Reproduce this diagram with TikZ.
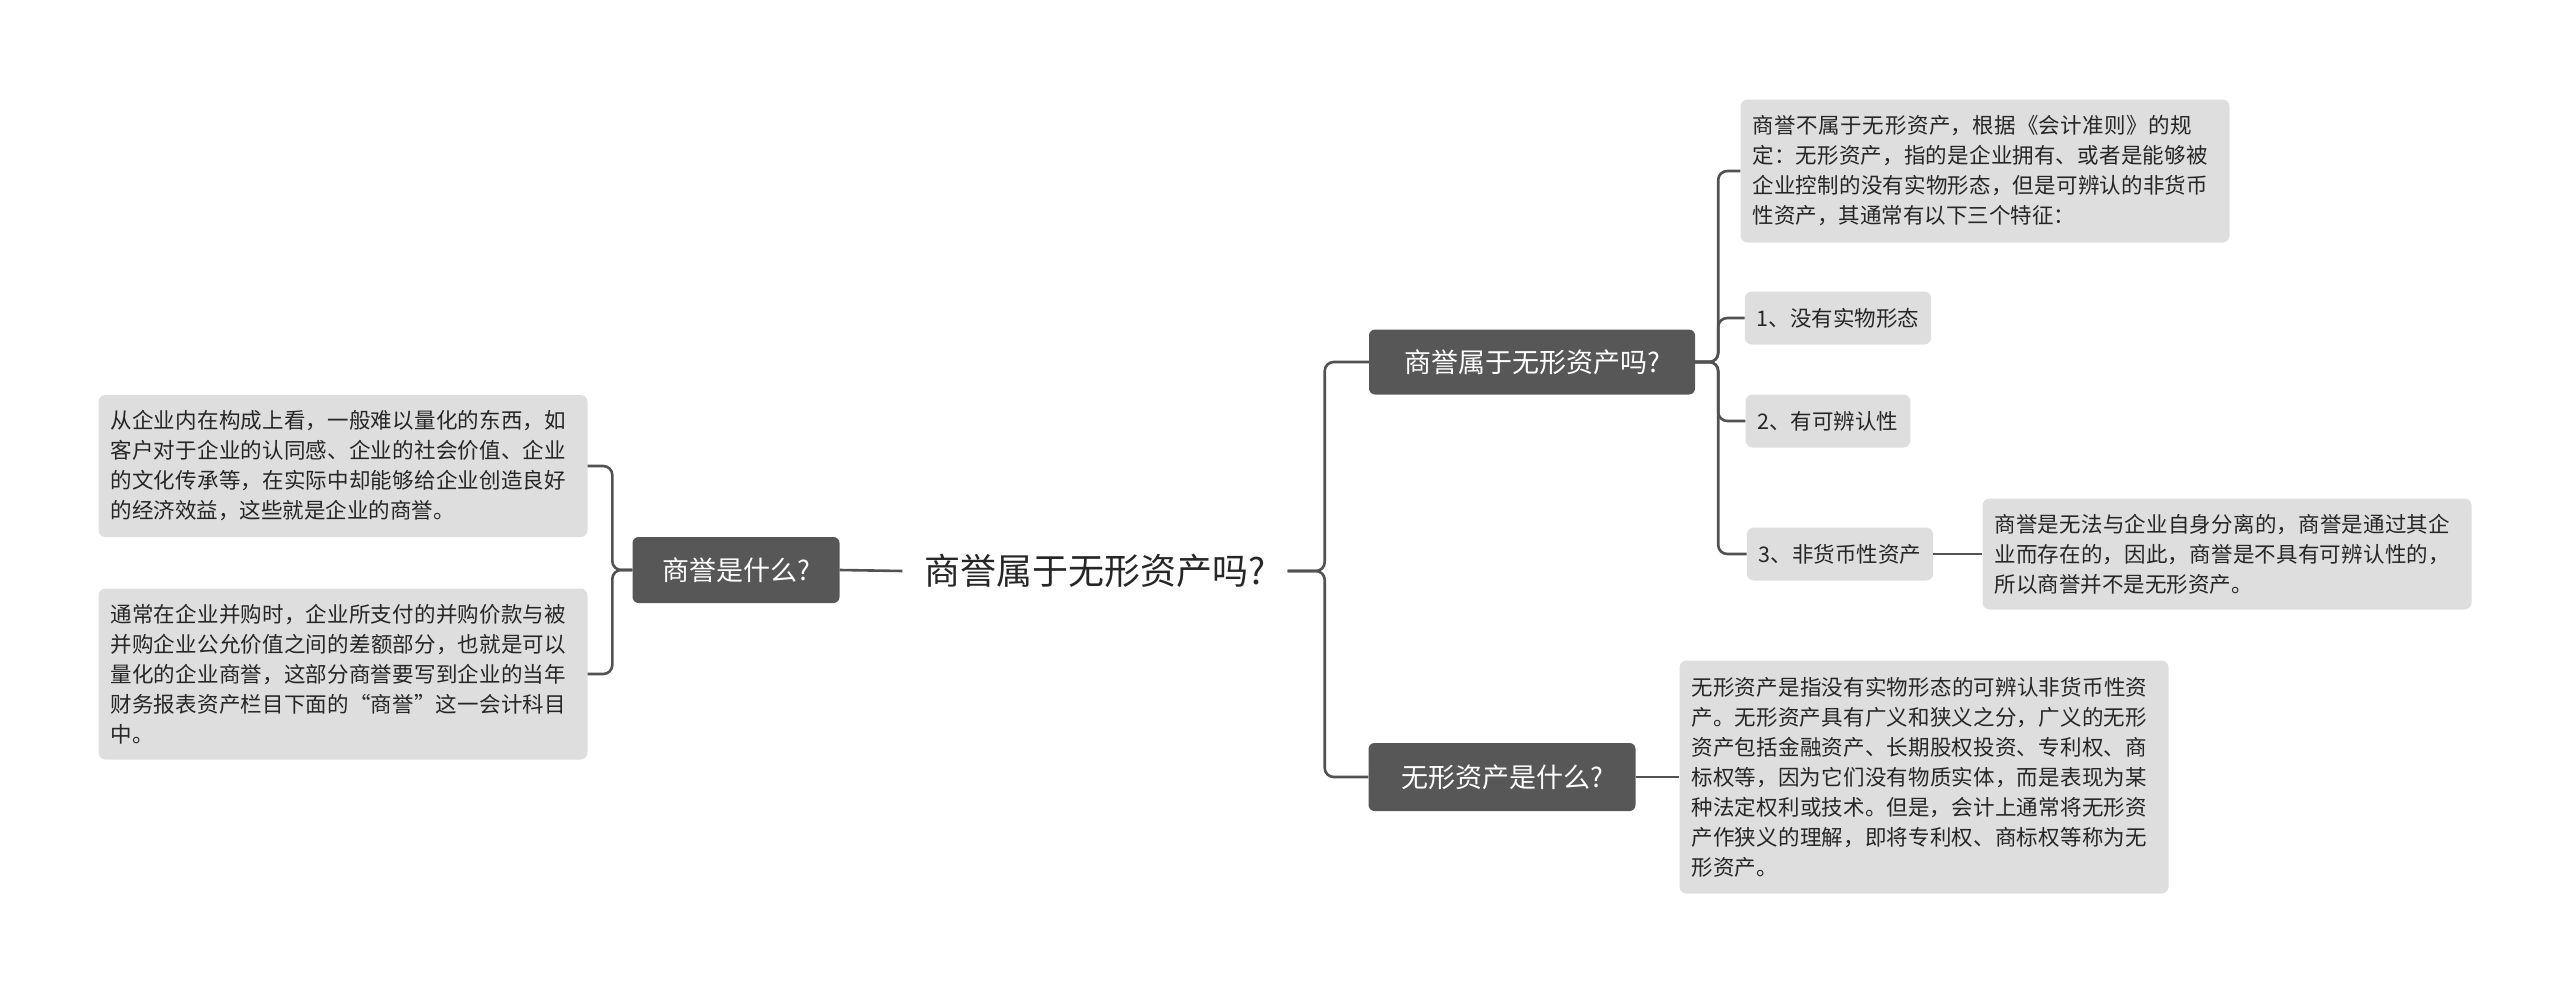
\documentclass[tikz,border=0pt]{standalone}
\usepackage{fontspec}
\setmainfont{Noto Sans CJK SC}
\XeTeXlinebreaklocale "zh"
\XeTeXlinebreakskip=0pt plus 1pt
\begin{document}
\begin{tikzpicture}[x=1pt,y=-1pt,
  conn/.style={draw=black!68,line width=2.6pt,rounded corners=9pt},
  dark/.style={fill=black!66,text=white,rounded corners=6pt,inner xsep=12pt,minimum height=66pt,font=\fontsize{27}{34}\selectfont},
  lite/.style={fill=black!13,text=black!85,rounded corners=7pt,inner xsep=12pt,minimum height=53pt,font=\fontsize{21.5}{30}\selectfont},
  detail/.style={lite,text width=465pt,align=left,inner ysep=10pt}]
\useasboundingbox (0,0) rectangle (2560,990);
\node[font=\fontsize{36}{42}\selectfont,text=black!85,inner xsep=22pt] (root) at (1095,571) {商誉属于无形资产吗?};
\node[dark,minimum width=207pt] (q1) at (736,570) {商誉是什么?};
\node[dark,minimum width=326pt,minimum height=65pt] (b1) at (1532,362) {商誉属于无形资产吗?};
\node[dark,minimum width=267pt,minimum height=68pt] (b2) at (1502,777) {无形资产是什么?};
\node[detail,minimum height=142pt] (L1) at (343,466) {从企业内在构成上看，一般难以量化的东西，如客户对于企业的认同感、企业的社会价值、企业的文化传承等，在实际中却能够给企业创造良好的经济效益，这些就是企业的商誉。};
\node[detail,minimum height=171pt] (L2) at (343,674) {通常在企业并购时，企业所支付的并购价款与被并购企业公允价值之间的差额部分，也就是可以量化的企业商誉，这部分商誉要写到企业的当年财务报表资产栏目下面的“商誉”这一会计科目中。};
\node[detail,minimum height=143pt] (R0) at (1985,171) {商誉不属于无形资产，根据《会计准则》的规定：无形资产，指的是企业拥有、或者是能够被企业控制的没有实物形态，但是可辨认的非货币性资产，其通常有以下三个特征：};
\node[lite] (R1) at (1838,318) {1、没有实物形态};
\node[lite] (R2) at (1828,421) {2、有可辨认性};
\node[lite] (R3) at (1840,554) {3、非货币性资产};
\node[detail,minimum height=111pt] (R3d) at (2227,554) {商誉是无法与企业自身分离的，商誉是通过其企业而存在的，因此，商誉是不具有可辨认性的，所以商誉并不是无形资产。};
\node[detail,minimum height=233pt] (W) at (1924,777) {无形资产是指没有实物形态的可辨认非货币性资产。无形资产具有广义和狭义之分，广义的无形资产包括金融资产、长期股权投资、专利权、商标权等，因为它们没有物质实体，而是表现为某种法定权利或技术。但是，会计上通常将无形资产作狭义的理解，即将专利权、商标权等称为无形资产。};
\draw[conn] (root.west) -- (q1.east);
\draw[conn] (q1.west) -- ++(-20,0) |- (L1.east);
\draw[conn] (q1.west) -- ++(-20,0) |- (L2.east);
\draw[conn] (root.east) -- ++(37,0) |- (b1.west);
\draw[conn] (root.east) -- ++(37,0) |- (b2.west);
\draw[conn] (b1.east) -- ++(23,0) |- (R0.west);
\draw[conn] (b1.east) -- ++(23,0) |- (R1.west);
\draw[conn] (b1.east) -- ++(23,0) |- (R2.west);
\draw[conn] (b1.east) -- ++(23,0) |- (R3.west);
\draw[conn] (R3.east) -- (R3d.west);
\draw[conn] (b2.east) -- (W.west);
\end{tikzpicture}
\end{document}
